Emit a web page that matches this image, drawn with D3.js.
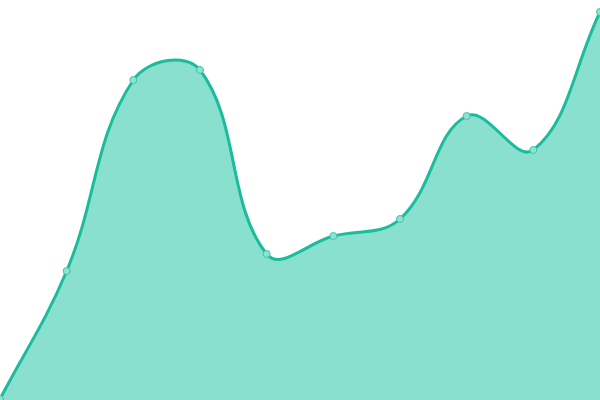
<!DOCTYPE html>
<html>
<head>
<meta charset="utf-8">
<script src="https://cdn.jsdelivr.net/npm/d3@7"></script>
<style>
html,body{margin:0;padding:0;background:#fff;overflow:hidden;}
svg{display:block;}
</style>
</head>
<body>
<svg id="chart" width="600" height="400"></svg>
<script>
const categories = [0,1,2,3,4,5,6,7,8,9];
const values = [1, 129, 320, 330, 146, 164, 181, 284, 250, 388];
const yDomain = [0, 400];

const W = 600, H = 400;
const x = d3.scaleLinear().domain([0, categories.length - 1]).range([0, W]);
const y = d3.scaleLinear().domain(yDomain).range([H, 0]);

// Chart.js-style spline curve (tension 0.4)
function SplineCurve(context){ this._context = context; this._t = 0.4; }
SplineCurve.prototype = {
  areaStart(){ this._line = 0; },
  areaEnd(){ this._line = NaN; },
  lineStart(){ this._pts = []; },
  point(px, py){ this._pts.push([+px, +py]); },
  lineEnd(){
    const p = this._pts, c = this._context, n = p.length, t = this._t;
    if (n) {
      if (this._line) c.lineTo(p[0][0], p[0][1]); else c.moveTo(p[0][0], p[0][1]);
      const cps = p.map((cur, i) => {
        const prev = p[i - 1] || cur, next = p[i + 1] || cur;
        const d01 = Math.hypot(cur[0] - prev[0], cur[1] - prev[1]);
        const d12 = Math.hypot(next[0] - cur[0], next[1] - cur[1]);
        let s01 = d01 / (d01 + d12), s12 = d12 / (d01 + d12);
        if (!isFinite(s01)) s01 = 0; if (!isFinite(s12)) s12 = 0;
        const fa = t * s01, fb = t * s12;
        return {
          prev: [cur[0] - fa * (next[0] - prev[0]), cur[1] - fa * (next[1] - prev[1])],
          next: [cur[0] + fb * (next[0] - prev[0]), cur[1] + fb * (next[1] - prev[1])]
        };
      });
      for (let i = 1; i < n; i++) {
        const a = cps[i - 1].next, b = cps[i].prev;
        c.bezierCurveTo(a[0], a[1], b[0], b[1], p[i][0], p[i][1]);
      }
    }
    if (this._line || (this._line !== 0 && n === 1)) c.closePath();
    this._line = 1 - this._line;
  }
};
const curveSpline = ctx => new SplineCurve(ctx);

const data = categories.map((c, i) => ({c, v: values[i]}));
const svg = d3.select("#chart");

svg.append("path")
  .datum(data)
  .attr("fill", "#8ae0cf")
  .attr("d", d3.area().curve(curveSpline).x(d => x(d.c)).y0(y(0)).y1(d => y(d.v)));

svg.append("path")
  .datum(data)
  .attr("fill", "none")
  .attr("stroke", "#1abc9c")
  .attr("stroke-width", 3)
  .attr("d", d3.line().curve(curveSpline).x(d => x(d.c)).y(d => y(d.v)));

svg.selectAll("circle")
  .data(data)
  .join("circle")
  .attr("cx", d => x(d.c))
  .attr("cy", d => y(d.v))
  .attr("r", 3.5)
  .attr("fill", "#8fe2d1")
  .attr("stroke", "#3cc4a8")
  .attr("stroke-width", 1);
</script>
</body>
</html>
